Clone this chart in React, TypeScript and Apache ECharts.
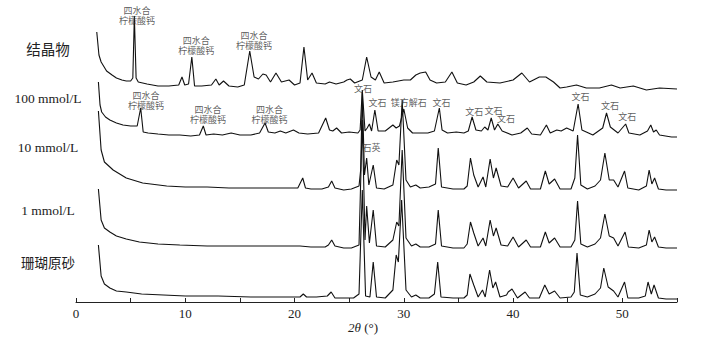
import React, { useEffect, useRef } from "react";
import * as echarts from "echarts";

// 2θ (°) vs. intensity (arbitrary units, traces stacked with offsets)
const crystal: number[][] = [
  [1.9, 271], [2.1, 248], [2.3, 241], [2.8, 232], [3.3, 228], [3.7, 225], [4.2, 223], [4.6, 222], [5.0, 222], [5.2, 225],
  [5.34, 287], [5.5, 225], [5.7, 221], [6.5, 219], [7.5, 217], [8.5, 217], [9.4, 218], [9.7, 226], [9.95, 218], [10.3, 219],
  [10.6, 246], [10.85, 217], [11.5, 217], [12.4, 218], [12.8, 224], [13.1, 218], [13.5, 222], [14.0, 217], [14.8, 216], [15.4, 218],
  [15.9, 252], [16.3, 226], [16.7, 224], [17.1, 229], [17.4, 228], [17.8, 221], [18.3, 230], [18.8, 221], [19.5, 223], [20.0, 218],
  [20.5, 220], [20.86, 256], [21.2, 223], [21.6, 230], [22.0, 220], [22.8, 219], [23.2, 221], [23.8, 219], [24.5, 221], [24.8, 223],
  [25.1, 224], [25.5, 220], [26.2, 223], [26.6, 246], [27.0, 226], [27.4, 223], [27.75, 231], [28.2, 220], [29.0, 221], [30.0, 223],
  [30.6, 223], [31.1, 228], [31.5, 230], [32.0, 231], [32.4, 223], [33.0, 220], [33.8, 221], [34.4, 231], [34.9, 220], [35.7, 218],
  [36.4, 221], [37.0, 227], [37.6, 221], [38.8, 220], [40.0, 223], [40.8, 230], [41.5, 221], [42.4, 226], [43.0, 226], [43.7, 221],
  [44.3, 215], [44.9, 216], [45.8, 218], [46.7, 215], [47.9, 215], [49.0, 218], [49.8, 215], [51.0, 217], [52.2, 213], [53.4, 215],
  [55.0, 214],
];

const mmol100: number[][] = [
  [2.05, 221], [2.2, 198], [2.35, 191], [2.7, 186], [3.1, 183], [3.7, 180], [4.3, 178], [5.0, 177], [5.6, 177], [5.92, 195],
  [6.15, 171], [6.6, 170], [7.5, 169], [8.5, 168], [9.5, 168], [10.5, 167], [11.3, 168], [11.65, 177], [11.9, 168], [12.6, 169],
  [13.4, 168], [14.2, 170], [15.0, 168], [16.0, 168], [16.8, 170], [17.3, 180], [17.6, 171], [18.2, 170], [18.7, 172], [19.2, 170],
  [19.9, 173], [20.4, 170], [21.2, 169], [22.2, 170], [22.85, 185], [23.2, 173], [23.5, 172], [23.85, 175], [24.3, 170], [25.0, 171],
  [25.8, 170], [26.0, 173], [26.2, 213], [26.45, 172], [26.65, 175], [26.85, 179], [27.05, 172], [27.35, 193], [27.65, 172], [28.3, 172],
  [29.0, 178], [29.3, 175], [29.6, 177], [30.0, 194], [30.35, 175], [30.8, 170], [31.5, 170], [32.2, 170], [32.8, 172], [33.25, 195],
  [33.5, 173], [34.0, 170], [34.8, 171], [35.5, 170], [35.9, 172], [36.25, 186], [36.6, 173], [37.1, 172], [37.4, 176], [37.7, 173],
  [38.0, 185], [38.3, 173], [38.6, 179], [39.0, 172], [39.9, 168], [40.7, 170], [41.3, 175], [41.7, 169], [42.5, 168], [43.05, 178],
  [43.4, 170], [44.0, 173], [44.4, 172], [44.9, 175], [45.5, 172], [45.95, 199], [46.3, 173], [47.3, 168], [48.2, 175], [48.55, 190],
  [48.9, 176], [49.6, 170], [50.3, 179], [50.6, 170], [51.6, 168], [52.3, 172], [52.6, 178], [52.85, 171], [53.1, 173], [53.4, 168],
  [54.5, 166], [55.0, 166],
];

const mmol10: number[][] = [
  [2.05, 192], [2.3, 153], [2.6, 141], [3.4, 133], [4.6, 125], [6.1, 120], [8.3, 117], [10, 116], [12, 116], [14, 115],
  [16, 115], [18, 115], [20.3, 115], [20.75, 125], [21.0, 115], [21.5, 114], [22.5, 114], [23.1, 116], [23.4, 122], [23.7, 115],
  [24.5, 113], [25.2, 114], [25.9, 117], [26.05, 133], [26.2, 210], [26.4, 128], [26.6, 145], [26.8, 118], [27.2, 138], [27.5, 115],
  [28.2, 114], [29.0, 118], [29.35, 143], [29.55, 138], [29.85, 203], [30.2, 123], [30.6, 116], [31.1, 118], [31.5, 115], [32.3, 116],
  [32.9, 119], [33.15, 155], [33.45, 116], [34.5, 114], [35.5, 114], [35.8, 117], [36.1, 145], [36.4, 128], [36.8, 116], [37.25, 126],
  [37.5, 116], [37.9, 144], [38.2, 125], [38.45, 135], [38.9, 117], [39.5, 116], [40.0, 125], [40.5, 115], [41.2, 122], [41.6, 114],
  [42.5, 114], [42.95, 132], [43.3, 119], [43.8, 124], [44.3, 114], [45.3, 114], [45.65, 125], [45.9, 168], [46.2, 118], [46.8, 114],
  [47.5, 117], [48.0, 123], [48.4, 150], [48.8, 123], [49.2, 123], [49.6, 116], [50.2, 132], [50.5, 115], [51.5, 113], [52.2, 117],
  [52.45, 133], [52.7, 119], [52.95, 125], [53.3, 114], [54.0, 113], [55.0, 113],
];

const mmol1: number[][] = [
  [2.05, 114], [2.3, 83], [2.6, 75], [3.1, 71], [3.7, 67], [4.6, 64], [5.8, 61], [7.5, 59], [9.5, 58], [12, 57],
  [15, 57], [18, 57], [20.5, 57], [21.5, 56], [22.8, 56], [23.1, 58], [23.4, 63], [23.7, 57], [24.5, 55], [25.2, 55],
  [25.9, 58], [26.2, 183], [26.45, 63], [26.6, 97], [26.85, 60], [27.2, 93], [27.5, 57], [28.3, 56], [29.0, 63], [29.35, 81],
  [29.55, 77], [29.85, 153], [30.2, 65], [30.7, 57], [31.1, 59], [31.5, 56], [32.3, 56], [32.9, 59], [33.15, 93], [33.45, 57],
  [34.5, 55], [35.5, 55], [35.8, 59], [36.1, 81], [36.4, 70], [36.8, 57], [37.25, 65], [37.5, 57], [37.9, 83], [38.2, 67],
  [38.45, 75], [38.9, 58], [39.5, 57], [40.0, 66], [40.5, 56], [41.2, 63], [41.6, 56], [42.5, 56], [42.95, 71], [43.3, 60],
  [43.8, 65], [44.3, 56], [45.3, 56], [45.65, 63], [45.9, 102], [46.2, 59], [46.8, 56], [47.5, 59], [48.0, 65], [48.4, 89],
  [48.8, 67], [49.2, 65], [49.6, 57], [50.25, 71], [50.55, 56], [51.5, 55], [52.2, 58], [52.45, 73], [52.7, 61], [52.95, 66],
  [53.3, 56], [54.0, 55], [55.0, 55],
];

const coral: number[][] = [
  [2.05, 58], [2.3, 27], [2.6, 19], [3.1, 15], [3.7, 12], [4.6, 11], [6, 9], [8, 8], [10, 7], [13, 7],
  [16, 6], [19, 6], [20.5, 6], [20.8, 9], [21.1, 6], [22, 6], [23.0, 7], [23.35, 11], [23.7, 5], [24.5, 5],
  [25.4, 5], [25.9, 9], [26.2, 113], [26.5, 7], [26.9, 6], [27.2, 41], [27.5, 6], [28.3, 5], [29.0, 13], [29.3, 48],
  [29.5, 41], [29.8, 103], [30.2, 13], [30.7, 6], [31.1, 8], [31.5, 5], [32.3, 5], [32.8, 9], [33.1, 41], [33.4, 6],
  [34.5, 5], [35.5, 5], [35.8, 8], [36.05, 29], [36.4, 18], [36.8, 6], [37.2, 13], [37.45, 6], [37.85, 33], [38.15, 15],
  [38.4, 21], [38.8, 6], [39.4, 8], [39.55, 11], [39.9, 14], [40.4, 5], [41.1, 11], [41.5, 5], [42.4, 5], [42.9, 18],
  [43.3, 9], [43.8, 12], [44.3, 5], [45.3, 6], [45.6, 11], [45.85, 50], [46.15, 8], [46.8, 6], [47.5, 9], [48.0, 15],
  [48.3, 35], [48.7, 16], [49.2, 12], [49.6, 6], [50.2, 21], [50.5, 5], [51.5, 5], [52.1, 7], [52.35, 21], [52.65, 9],
  [52.9, 18], [53.3, 5], [54.0, 4], [55.0, 4],
];

const sampleNames = ["结晶物", "100 mmol/L", "10 mmol/L", "1 mmol/L", "珊瑚原砂"];
const xTicks = [0, 10, 20, 30, 40, 50];

// peak annotations: [2θ, intensity]
const citrateLabel = "四水合\n柠檬酸钙";
const citratePeaks: number[][] = [[5.58, 287], [11.0, 257], [16.3, 262], [6.4, 202], [12.08, 188], [17.7, 188]];
const aragoniteLabel = "文石";
const aragonitePeaks: number[][] = [[26.26, 214], [27.6, 200], [33.45, 200], [36.45, 191], [38.2, 192], [39.35, 184], [46.18, 206], [48.86, 197], [50.44, 186]];
const mgCalciteLabel = "镁方解石";
const mgCalcitePeaks: number[][] = [[30.45, 200]];
const quartzLabel = "石英";
const quartzPeaks: number[][] = [[27.05, 155]];

const SERIF = "'Liberation Serif', 'Noto Sans CJK SC', serif";

export default function App() {
  const ref = useRef<HTMLDivElement>(null);
  useEffect(() => {
    if (!ref.current) return;
    const chart = echarts.init(ref.current, undefined, { renderer: "svg" });
    const traces = [crystal, mmol100, mmol10, mmol1, coral];
    const lineSeries = traces.map((d, i) => ({
      name: sampleNames[i],
      type: "line",
      data: d,
      showSymbol: false,
      symbol: "none",
      silent: true,
      clip: false,
      lineStyle: { color: "#111", width: 1.1 },
      z: 2,
    }));
    const annSeries = (pts: number[][], text: string) => ({
      type: "scatter",
      data: pts,
      symbolSize: 1,
      silent: true,
      itemStyle: { color: "rgba(0,0,0,0)" },
      label: {
        show: true,
        position: "inside",
        formatter: text,
        fontFamily: SERIF,
        fontSize: 9,
        lineHeight: 9.5,
        color: "#333",
        align: "center",
      },
      z: 3,
    });
    const leftLabelY = [50, 98, 147, 210, 263];
    chart.setOption({
      animation: false,
      grid: { left: 76, right: 31, top: 13, bottom: 41 },
      xAxis: {
        type: "value",
        min: 0,
        max: 55,
        interval: 10,
        axisLine: { show: true, lineStyle: { color: "#222", width: 1 } },
        axisTick: { show: true, inside: true, length: 4, lineStyle: { color: "#222" } },
        minorTick: { show: true, splitNumber: 2, length: 4, lineStyle: { color: "#222" } },
        splitLine: { show: false },
        axisLabel: {
          fontFamily: SERIF,
          fontSize: 13,
          color: "#222",
          margin: 5,
          formatter: (v: number) => (xTicks.includes(v) ? String(v) : ""),
        },
      },
      yAxis: {
        type: "value",
        min: 1,
        max: 290,
        show: false,
        splitLine: { show: false },
      },
      series: [
        ...lineSeries,
        annSeries(citratePeaks, citrateLabel),
        annSeries(aragonitePeaks, aragoniteLabel),
        annSeries(mgCalcitePeaks, mgCalciteLabel),
        annSeries(quartzPeaks, quartzLabel),
      ],
      graphic: [
        ...sampleNames.map((n, i) => ({
          type: "text",
          x: 48,
          y: leftLabelY[i],
          style: {
            text: n,
            fontFamily: SERIF,
            fontSize: i === 0 ? 14.5 : 13.5,
            fill: "#222",
            align: "center",
            verticalAlign: "middle",
          },
        })),
        {
          type: "text",
          x: 363,
          y: 327,
          style: {
            text: "{i|2θ} (°)",
            fontFamily: SERIF,
            fontSize: 13,
            fill: "#222",
            align: "center",
            verticalAlign: "middle",
            rich: { i: { fontStyle: "italic", fontFamily: SERIF, fontSize: 13, fill: "#222" } },
          },
        },
      ],
    });
    return () => chart.dispose();
  }, []);
  return (
    <div
      ref={ref}
      style={{ position: "fixed", left: 0, top: 0, width: 708, height: 343, background: "#fff" }}
    />
  );
}
